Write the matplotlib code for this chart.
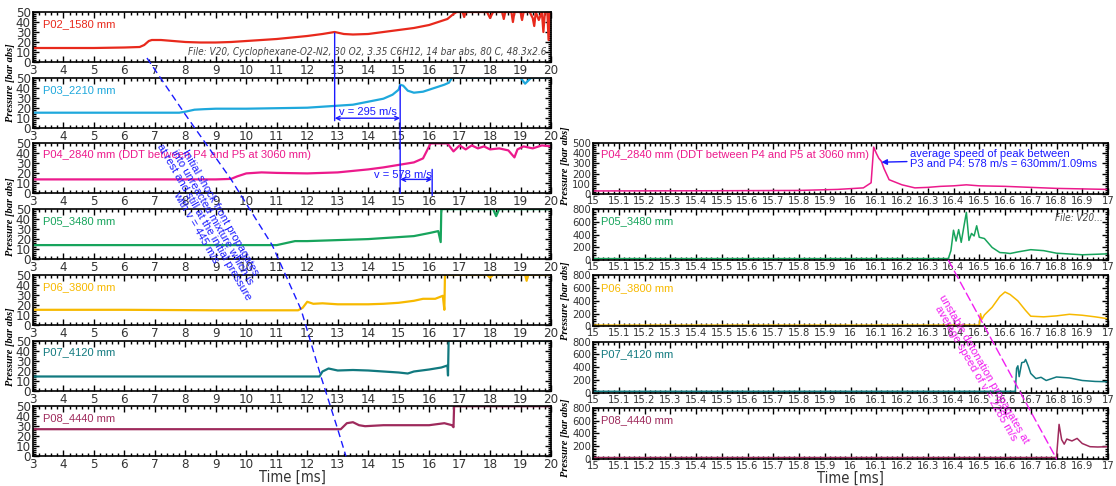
import matplotlib
matplotlib.use("Agg")
import matplotlib.pyplot as plt
from matplotlib import font_manager
from matplotlib.font_manager import FontProperties
from matplotlib.patches import ConnectionPatch
from matplotlib.lines import Line2D
from matplotlib.ticker import MultipleLocator, FuncFormatter

# look for a condensed sans font file for the tick numbers
cond_file = None
for f in sorted(font_manager.fontManager.ttflist, key=lambda e: e.fname):
    fn = f.fname.lower()
    if ("condensed" in fn or "narrow" in fn) and "sans" in fn and "bold" not in fn \
            and "oblique" not in fn and "italic" not in fn and "mono" not in fn:
        cond_file = f.fname
        break
cond_it_file = None
for f in sorted(font_manager.fontManager.ttflist, key=lambda e: e.fname):
    fn = f.fname.lower()
    if ("condensed" in fn or "narrow" in fn) and "sans" in fn and "bold" not in fn \
            and ("oblique" in fn or "italic" in fn) and "mono" not in fn:
        cond_it_file = f.fname
        break


def tickfont(size):
    if cond_file:
        return FontProperties(fname=cond_file, size=size)
    return FontProperties(family="DejaVu Sans", size=size * 0.8)


def italfont(size):
    if cond_it_file:
        return FontProperties(fname=cond_it_file, size=size)
    return FontProperties(family="DejaVu Sans", style="italic", size=size * 0.85)


# ---- left column: 3..20 ms, pressure 0..50 bar ----
t02 = [3, 4, 5, 6, 6.5, 6.65, 6.8, 6.9, 7.2, 7.6, 8.0, 8.5, 9.0, 9.5, 10.0, 10.5, 11.0, 11.5, 12.0, 12.5,
       12.9, 13.2, 13.5, 14.0, 14.5, 15.0, 15.5, 16.0, 16.3, 16.6, 16.8, 16.9, 17.1, 17.15, 17.2, 17.9, 18.0,
       18.1, 18.4, 18.45, 18.5, 18.7, 18.75, 18.8, 19.0, 19.05, 19.1, 19.3, 19.4, 19.45, 19.5, 19.6, 19.7,
       19.75, 19.8, 19.88, 19.92, 19.96, 20.0]
p02 = [14, 14, 14, 14.5, 15, 17, 21, 22, 22, 21, 20, 19.5, 19.5, 20, 21, 22, 23, 24.5, 26, 28,
       30, 28, 27.5, 28, 30, 32, 34, 37, 40, 43, 48, 50, 50, 45, 50, 50, 44,
       50, 50, 43, 50, 50, 40, 50, 50, 42, 50, 50, 44, 36, 50, 42, 50,
       30, 50, 50, 22, 50, 50]

t03 = [3, 5, 7, 7.8, 8.0, 8.3, 8.6, 9, 10, 11, 12, 12.5, 13, 13.5, 14, 14.5, 14.8, 15.0, 15.05, 15.15, 15.3,
       15.5, 15.8, 16.0, 16.3, 16.5, 16.65, 16.75, 17, 18, 19.0, 19.15, 19.25, 19.35, 20]
p03 = [15, 15, 15, 15, 16, 18, 18.5, 19, 19, 19.5, 20, 21, 22, 23, 26, 29, 33, 38, 43, 42, 37,
       35, 36, 38, 41, 43, 45, 50, 50, 50, 50, 44, 47, 50, 50]

t04 = [3, 5, 7, 9, 9.5, 9.7, 10.0, 10.5, 11, 12, 13, 14, 14.5, 15, 15.5, 15.8, 15.95, 16.05, 16.6, 16.8,
       17.0, 17.2, 17.4, 17.6, 17.8, 18.0, 18.3, 18.6, 18.8, 18.9, 19.1, 19.4, 19.7, 20]
p04 = [14, 14, 14, 14, 14.5, 17, 20, 21, 20.5, 20, 21, 24, 26, 28.5, 31, 35, 44, 50, 50, 42,
       48, 44, 48, 45, 47, 44, 45, 43, 36, 44, 47, 45, 48, 47]

t05 = [3, 6, 9, 11, 11.3, 11.6, 12, 13, 14, 15, 15.5, 16.0, 16.3, 16.38, 16.4, 16.42, 18.1, 18.2, 18.3, 20]
p05 = [14, 14, 14, 14, 16, 18, 18, 19, 20, 22, 23, 26, 28, 17, 50, 50, 50, 43, 50, 50]

t06 = [3, 6, 9, 11.7, 11.85, 12.0, 12.2, 12.5, 13, 14, 14.5, 15.0, 15.5, 15.8, 16.2, 16.45, 16.5, 16.52,
       17.9, 18.0, 18.1, 19.15, 19.2, 19.25, 20]
p06 = [15, 15, 14.5, 14.5, 17, 23, 21, 21.5, 20.5, 20.5, 21, 22, 24, 26, 26, 29, 15, 50,
       50, 47, 50, 50, 44, 50, 50]

t07 = [3, 6, 9, 12.4, 12.5, 12.7, 13.0, 13.5, 14, 14.5, 15.0, 15.3, 15.5, 16.0, 16.4, 16.6, 16.62, 16.64, 20]
p07 = [14, 14, 14, 14, 19, 22, 20, 20.5, 20, 19, 18, 17, 19, 21, 23, 25, 15, 50, 50]

t08 = [3, 6, 9, 12, 13.1, 13.3, 13.5, 13.7, 13.9, 14.5, 15, 16, 16.5, 16.75, 16.8, 16.82, 20]
p08 = [27, 27, 27, 27, 27, 33, 34, 31, 30, 31, 31, 31, 33, 31, 29, 50, 50]

# ---- right column: 15..17 ms zoom ----
r04t = [15, 15.5, 15.8, 15.95, 16.05, 16.08, 16.09, 16.1, 16.11, 16.12, 16.13, 16.15, 16.2, 16.25, 16.3,
        16.35, 16.4, 16.45, 16.5, 16.6, 16.7, 16.8, 16.9, 17]
r04p = [30, 32, 35, 45, 60, 110, 460, 400, 350, 320, 250, 140, 90, 60, 65,
        75, 80, 90, 80, 75, 65, 55, 50, 45]

r05t = [15, 15.5, 16.0, 16.38, 16.39, 16.40, 16.41, 16.42, 16.43, 16.44, 16.45, 16.46, 16.47, 16.48, 16.49,
        16.5, 16.52, 16.55, 16.58, 16.6, 16.62, 16.65, 16.7, 16.75, 16.8, 16.9, 17]
r05p = [25, 25, 25, 25, 150, 470, 300, 480, 280, 520, 750, 310, 420, 380, 540,
        360, 340, 200, 120, 115, 105, 130, 165, 150, 110, 85, 100]

r06t = [15, 15.5, 16.0, 16.5, 16.505, 16.51, 16.52, 16.55, 16.58, 16.6, 16.62, 16.65, 16.68, 16.7, 16.75,
        16.8, 16.85, 16.9, 16.95, 17]
r06p = [20, 20, 20, 20, 200, 110, 180, 300, 470, 540, 500, 400, 250, 160, 150,
        165, 190, 175, 150, 120]

r07t = [15, 15.5, 16.0, 16.64, 16.645, 16.65, 16.655, 16.665, 16.675, 16.68, 16.69, 16.7, 16.72, 16.74,
        16.76, 16.8, 16.85, 16.9, 16.95, 17]
r07p = [20, 20, 20, 20, 380, 420, 250, 470, 480, 520, 420, 300, 220, 240,
        190, 245, 230, 190, 175, 170]

r08t = [15, 15.5, 16.0, 16.5, 16.8, 16.81, 16.82, 16.83, 16.84, 16.86, 16.88, 16.9, 16.93, 16.96, 17]
r08p = [20, 20, 20, 20, 20, 540, 300, 230, 310, 280, 320, 240, 190, 185, 190]

# shock front arrival (panel index, time, pressure) traced by the dashed blue line
shock_panel = [0, 1, 2, 3, 4, 5, 6, 6]
shock_t = [6.74, 7.98, 9.5, 10.85, 11.8, 12.45, 13.0, 13.27]
shock_p = [4, 14, 14, 14, 15, 14, 27, 0]

labels = ["P02_1580 mm", "P03_2210 mm", "P04_2840 mm (DDT between P4 and P5 at 3060 mm)",
          "P05_3480 mm", "P06_3800 mm", "P07_4120 mm", "P08_4440 mm"]
colors = ["#e8291c", "#1ea8dc", "#ec1a8c", "#17a45c", "#f7b900", "#11797f", "#9e2a5c"]
left_t = [t02, t03, t04, t05, t06, t07, t08]
left_p = [p02, p03, p04, p05, p06, p07, p08]
right_t = [r04t, r05t, r06t, r07t, r08t]
right_p = [r04p, r05p, r06p, r07p, r08p]

W, H = 1116, 486
fig = plt.figure(figsize=(W / 100, H / 100), dpi=100)


def px_axes(x0, y0, w, h):
    return fig.add_axes([x0 / W, 1 - (y0 + h) / H, w / W, h / H])


def style(ax, xmaj, xmin, ymaj, ymin, size):
    ax.xaxis.set_major_locator(MultipleLocator(xmaj))
    ax.xaxis.set_minor_locator(MultipleLocator(xmin))
    ax.yaxis.set_major_locator(MultipleLocator(ymaj))
    ax.yaxis.set_minor_locator(MultipleLocator(ymin))
    ax.xaxis.set_major_formatter(FuncFormatter(lambda v, p: "%g" % round(v, 2)))
    ax.tick_params(which="both", direction="in", top=True, right=True, width=1.0,
                   pad=1.5, colors="black", labelcolor="#333333")
    ax.tick_params(which="major", length=4)
    ax.tick_params(which="minor", length=2.5)
    fp = tickfont(size)
    for lab in ax.get_xticklabels() + ax.get_yticklabels():
        lab.set_fontproperties(fp)
    for s in ax.spines.values():
        s.set_linewidth(1.2)


lax = []
for i in range(7):
    ax = px_axes(33, 12 + 65.7 * i, 518, 50)
    ax.plot(left_t[i], left_p[i], color=colors[i], lw=1.6)
    ax.set_xlim(3, 20)
    ax.set_ylim(0, 50)
    style(ax, 1, 0.2, 10, 2, 9.5)
    ax.text(0.02, 0.76, labels[i], transform=ax.transAxes, color=colors[i], fontsize=8,
            family="Liberation Sans", va="center")
    lax.append(ax)

rax = []
for j in range(5):
    i = j + 2
    ax = px_axes(593, 143 + 66.2 * j, 515, 51)
    ax.plot(right_t[j], right_p[j], color=colors[i], lw=1.1)
    ax.set_xlim(15, 17)
    if j == 0:
        ax.set_ylim(0, 500)
        style(ax, 0.1, 0.02, 100, 20, 8)
    else:
        ax.set_ylim(0, 800)
        style(ax, 0.1, 0.02, 200, 40, 8)
    ax.text(0.016, 0.76, labels[i], transform=ax.transAxes, color=colors[i], fontsize=8,
            family="Liberation Sans", va="center")
    rax.append(ax)

lax[-1].set_xlabel("Time [ms]", fontproperties=tickfont(10.5), color="#333333", labelpad=-1)
rax[-1].set_xlabel("Time [ms]", fontproperties=tickfont(10.5), color="#333333", labelpad=0)

# y labels (they overlap between panels in the original)
for yc in [83, 217, 347]:
    fig.text(11 / W, 1 - yc / H, "Pressure [bar abs]", rotation=90, ha="center", va="center",
             family="Liberation Serif", style="italic", weight="bold", fontsize=7.5)
for yc in [166, 301, 438]:
    fig.text(565 / W, 1 - yc / H, "Pressure [bar abs]", rotation=90, ha="center", va="center",
             family="Liberation Serif", style="italic", weight="bold", fontsize=7.5)

# file info
lax[0].text(0.992, 0.2, "File: V20, Cyclophexane-O2-N2, 30 O2, 3.35 C6H12, 14 bar abs, 80 C, 48.3x2.6",
            transform=lax[0].transAxes, ha="right", va="center", fontproperties=italfont(7.2),
            color="#444444")
rax[1].text(0.99, 0.82, "File: V20...", transform=rax[1].transAxes, ha="right", va="center",
            fontproperties=italfont(7.2), color="#444444")

blue = "#1a1aff"


def link(axa, xya, axb, xyb, color, ls="-", lw=1.0):
    con = ConnectionPatch(xyA=xya, coordsA=axa.transData, xyB=xyb, coordsB=axb.transData,
                          color=color, linestyle=ls, lw=lw)
    fig.add_artist(con)


# speed markers P2->P3 and P3->P4
link(lax[0], (12.9, 29), lax[1], (12.9, 7), blue)
link(lax[1], (15.05, 42), lax[2], (15.05, 0), blue)
link(lax[2], (16.1, 24), lax[2], (16.1, -2), blue)
lax[1].annotate("", xy=(15.05, 9.5), xytext=(12.9, 9.5),
                arrowprops=dict(arrowstyle="<->", color=blue, lw=1.0, shrinkA=0, shrinkB=0,
                                mutation_scale=7))
lax[1].text(13.05, 16, "v = 295 m/s", color=blue, fontsize=8, family="Liberation Sans", va="center")
lax[2].annotate("", xy=(16.1, 14), xytext=(15.05, 14),
                arrowprops=dict(arrowstyle="<->", color=blue, lw=1.0, shrinkA=0, shrinkB=0,
                                mutation_scale=7))
lax[2].text(14.2, 18.5, "v = 578 m/s", color=blue, fontsize=8, family="Liberation Sans", va="center")

# initial shock front: dashed path through the arrival points of the panels
to_fig = fig.transFigure.inverted()
pts = [to_fig.transform(lax[k].transData.transform((t, p)))
       for k, t, p in zip(shock_panel, shock_t, shock_p)]
fig.add_artist(Line2D([q[0] for q in pts], [q[1] for q in pts], transform=fig.transFigure,
                      color=blue, lw=1.0, linestyle=(0, (5, 3))))
fig.text(208 / W, 1 - 220 / H,
         "Initial shock front propagates\ninto unreacted mixture which is\n"
         "at rest and still at the initial pressure\nwith v = 445 m/s",
         rotation=-60, ha="center", va="center", color=blue, fontsize=8,
         family="Liberation Sans", linespacing=0.95, rotation_mode="anchor")

# detonation front on the right
mag = "#f01ef0"
link(rax[1], (16.38, 0), rax[4], (16.8, 0), mag, ls=(0, (6, 3)), lw=1.0)
fig.text(980 / W, 1 - 371 / H, "unstable detonation propagates at\naverage speed of v = 2285 m/s",
         rotation=-60, ha="center", va="center", color=mag, fontsize=8,
         family="Liberation Sans", linespacing=0.95, rotation_mode="anchor")

rax[0].annotate("average speed of peak between\nP3 and P4: 578 m/s = 630mm/1.09ms",
                xy=(16.12, 312), xytext=(16.23, 340), color=blue, fontsize=8,
                family="Liberation Sans", va="center", linespacing=1.0,
                arrowprops=dict(arrowstyle="-|>", color=blue, lw=1.0, shrinkA=0, shrinkB=0,
                                mutation_scale=8))

fig.savefig("out.png", dpi=100)
